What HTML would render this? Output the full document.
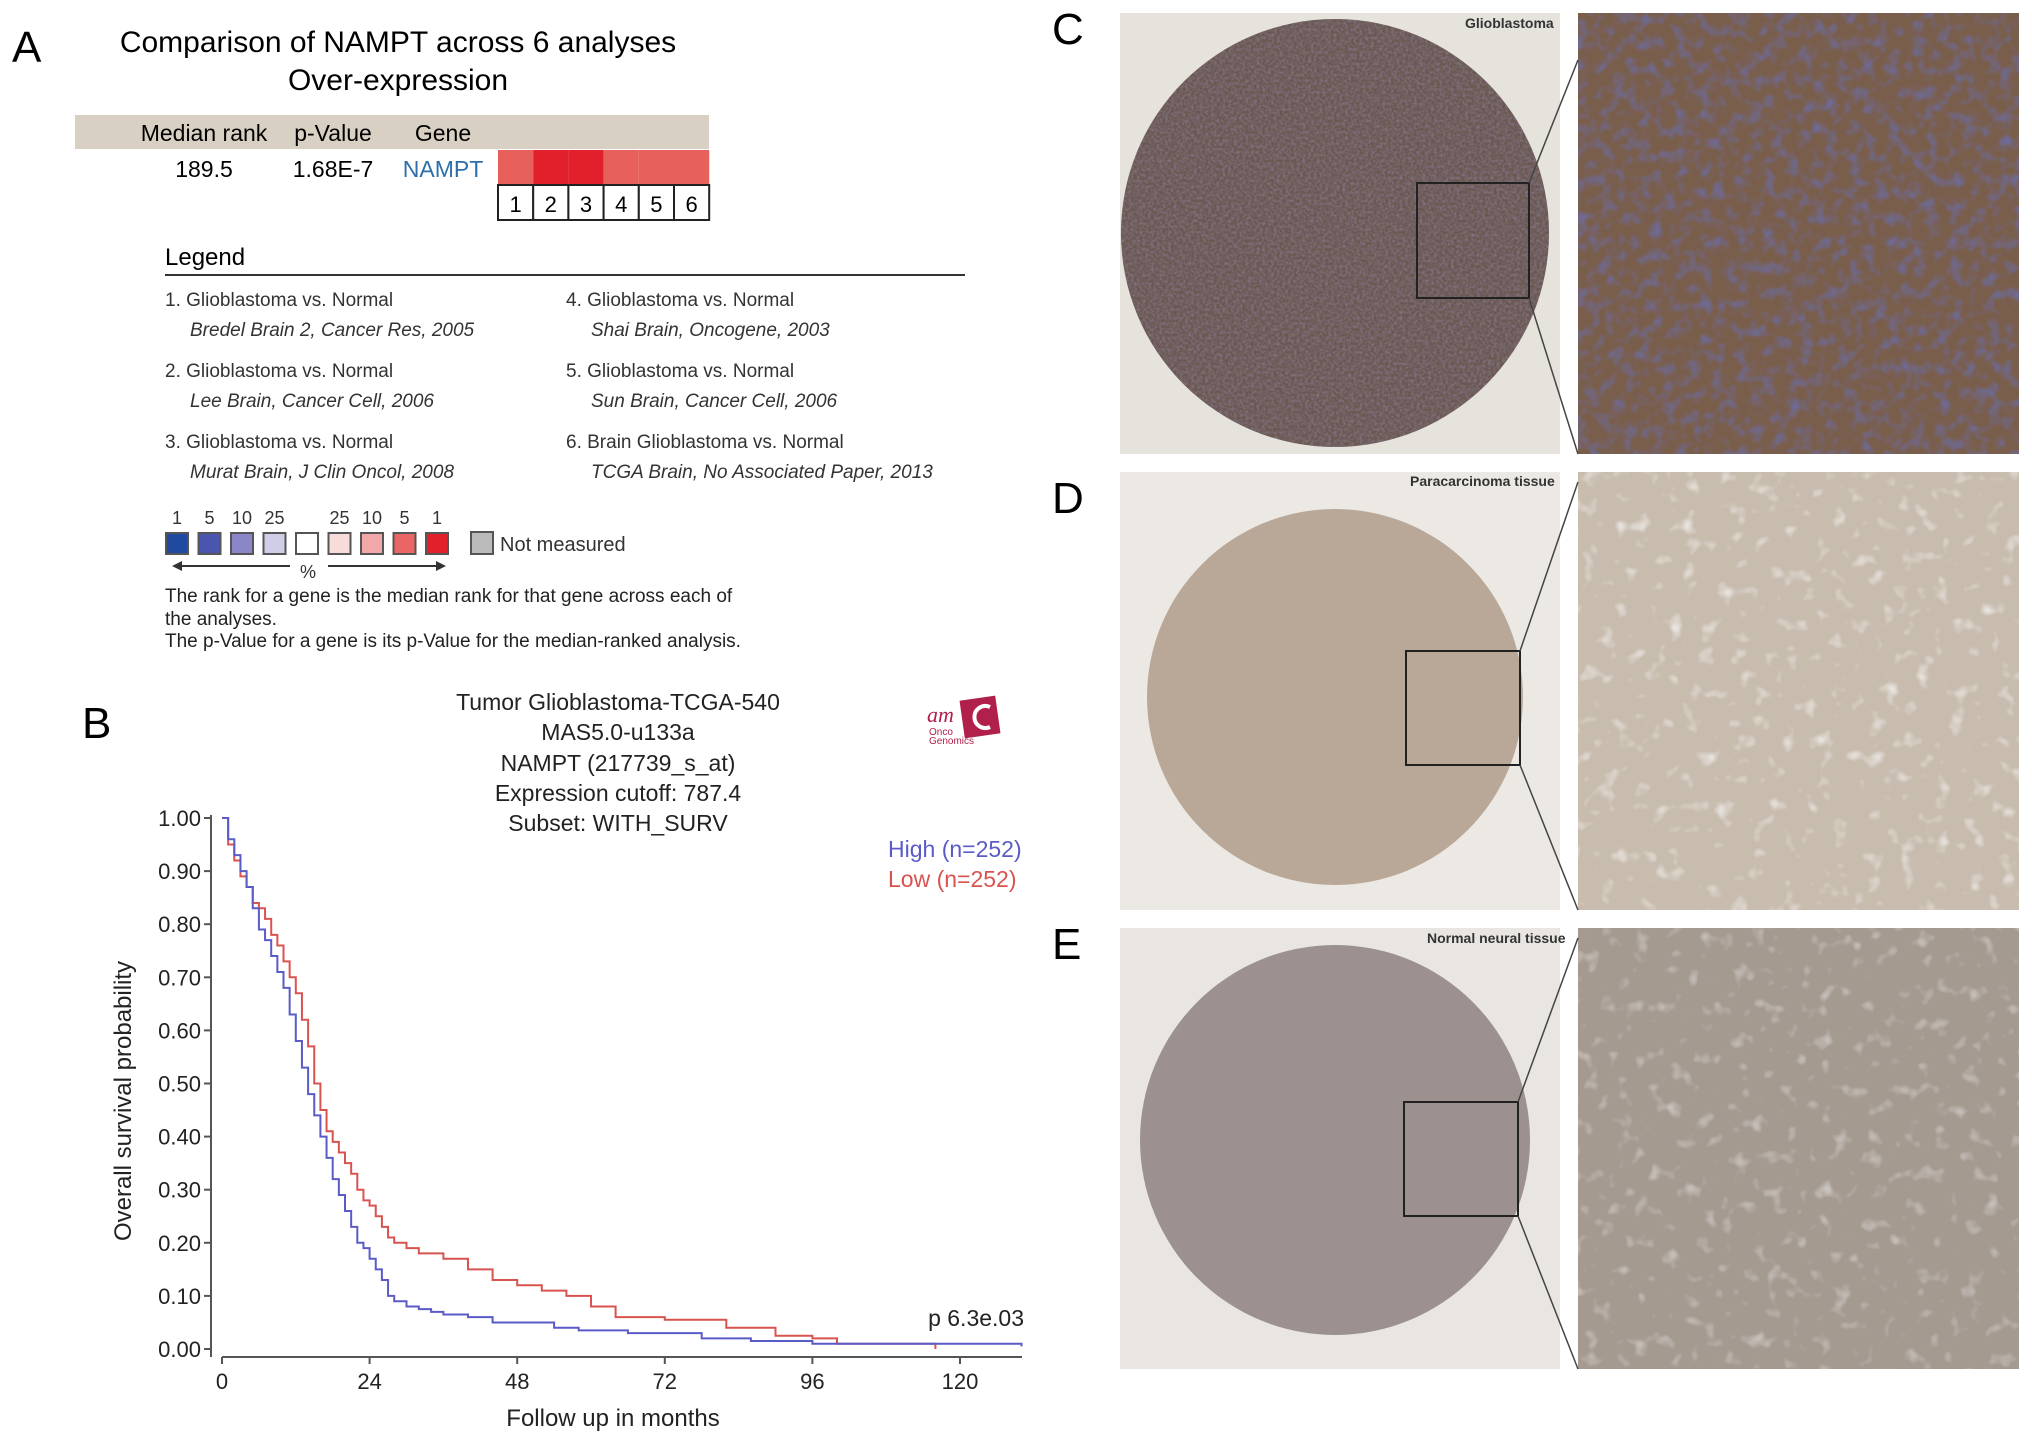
<!DOCTYPE html>
<html><head><meta charset="utf-8"><style>
html,body{margin:0;padding:0;background:#fff;}
svg{display:block;font-family:"Liberation Sans",Arial,sans-serif;}
</style></head><body>
<svg id="fig" width="2032" height="1444" viewBox="0 0 2032 1444" xmlns="http://www.w3.org/2000/svg">
<defs>
 <filter id="tex1" x="0" y="0" width="100%" height="100%"><feTurbulence type="fractalNoise" baseFrequency="0.35" numOctaves="2" seed="3"/><feColorMatrix type="matrix" values="0 0 0 0 0.25  0 0 0 0 0.2  0 0 0 0 0.3  0 0 0 1.8 -0.6"/></filter>
 <filter id="tex2" x="0" y="0" width="100%" height="100%"><feTurbulence type="fractalNoise" baseFrequency="0.08" numOctaves="2" seed="7"/><feColorMatrix type="matrix" values="0 0 0 0 0.15  0 0 0 0 0.15  0 0 0 0 0.35  0 0 0 2.2 -1.0"/></filter>
 <filter id="tex3" x="0" y="0" width="100%" height="100%"><feTurbulence type="fractalNoise" baseFrequency="0.06" numOctaves="2" seed="11"/><feColorMatrix type="matrix" values="0 0 0 0 0.95  0 0 0 0 0.95  0 0 0 0 0.95  0 0 0 2.2 -1.3"/></filter>
 <clipPath id="cc"><circle cx="1335" cy="233" r="214"/></clipPath>
</defs>

<g>
 <text x="12" y="62" font-size="44">A</text>
 <text x="398" y="52" font-size="30" text-anchor="middle">Comparison of NAMPT across 6 analyses</text>
 <text x="398" y="90" font-size="30" text-anchor="middle">Over-expression</text>
 <rect x="75" y="115" width="634" height="34" fill="#d8d0c2"/>
 <text x="204" y="141" font-size="23" text-anchor="middle">Median rank</text>
 <text x="333" y="141" font-size="23" text-anchor="middle">p-Value</text>
 <text x="443" y="141" font-size="23" text-anchor="middle">Gene</text>
 <text x="204" y="177" font-size="23" text-anchor="middle">189.5</text>
 <text x="333" y="177" font-size="23" text-anchor="middle">1.68E-7</text>
 <text x="443" y="177" font-size="23" text-anchor="middle" fill="#2f6fa8">NAMPT</text>
 <g id="cells"></g>
 <text x="165" y="265" font-size="24">Legend</text>
 <line x1="165" y1="275" x2="965" y2="275" stroke="#333" stroke-width="2"/>
 <g font-size="19" fill="#333">
  <text x="165" y="306">1. Glioblastoma vs. Normal</text><text x="190" y="336" font-style="italic">Bredel Brain 2, Cancer Res, 2005</text>
  <text x="165" y="377">2. Glioblastoma vs. Normal</text><text x="190" y="407" font-style="italic">Lee Brain, Cancer Cell, 2006</text>
  <text x="165" y="448">3. Glioblastoma vs. Normal</text><text x="190" y="478" font-style="italic">Murat Brain, J Clin Oncol, 2008</text>
  <text x="566" y="306">4. Glioblastoma vs. Normal</text><text x="591" y="336" font-style="italic">Shai Brain, Oncogene, 2003</text>
  <text x="566" y="377">5. Glioblastoma vs. Normal</text><text x="591" y="407" font-style="italic">Sun Brain, Cancer Cell, 2006</text>
  <text x="566" y="448">6. Brain Glioblastoma vs. Normal</text><text x="591" y="478" font-style="italic">TCGA Brain, No Associated Paper, 2013</text>
 </g>
 <g id="scale"></g>
 <rect x="471" y="532" width="22" height="22" fill="#bbb" stroke="#555" stroke-width="2"/>
 <text x="500" y="551" font-size="20" fill="#333">Not measured</text>
 <line x1="180" y1="566" x2="290" y2="566" stroke="#333" stroke-width="2"/><polygon points="172,566 182,561 182,571" fill="#333"/>
 <line x1="328" y1="566" x2="438" y2="566" stroke="#333" stroke-width="2"/><polygon points="446,566 436,561 436,571" fill="#333"/>
 <text x="308" y="578" font-size="18" text-anchor="middle" fill="#333">%</text>
 <g font-size="19" fill="#222">
  <text x="165" y="602">The rank for a gene is the median rank for that gene across each of</text>
  <text x="165" y="625">the analyses.</text>
  <text x="165" y="647">The p-Value for a gene is its p-Value for the median-ranked analysis.</text>
 </g>
</g>

<g>
 <text x="82" y="738" font-size="44">B</text>
 <g font-size="23" text-anchor="middle" fill="#222">
  <text x="618" y="710">Tumor Glioblastoma-TCGA-540</text>
  <text x="618" y="740">MAS5.0-u133a</text>
  <text x="618" y="771">NAMPT (217739_s_at)</text>
  <text x="618" y="801">Expression cutoff: 787.4</text>
  <text x="618" y="831">Subset: WITH_SURV</text>
 </g>
 <g>
  <rect x="962" y="698" width="36" height="38" fill="#b0204a" transform="rotate(-8 980 717)"/>
  <path d="M990 707 A11 11 0 1 0 990 727" fill="none" stroke="#fff" stroke-width="4"/>
  <text x="927" y="722" font-size="22" font-style="italic" font-family="Liberation Serif,serif" fill="#b0204a">am</text>
  <text x="929" y="735" font-size="10" fill="#b0204a">Onco</text>
  <text x="929" y="744" font-size="10" fill="#b0204a">Genomics</text>
 </g>
 <g id="km"></g>
 <text x="888" y="857" font-size="23" fill="#5b5bc8">High (n=252)</text>
 <text x="888" y="887" font-size="23" fill="#d9534f">Low (n=252)</text>
 <text x="1024" y="1326" font-size="23" text-anchor="end" fill="#222">p 6.3e.03</text>
 <text x="613" y="1426" font-size="24" text-anchor="middle" fill="#222">Follow up in months</text>
 <text transform="translate(131,1101) rotate(-90)" font-size="24" text-anchor="middle" fill="#222">Overall survival probability</text>
</g>

<g>
 <text x="1052" y="44" font-size="44">C</text>
 <rect x="1120" y="13" width="440" height="441" fill="#e6e2dc"/>
 <circle cx="1335" cy="233" r="214" fill="#6a5850"/>
 <rect x="1120" y="13" width="440" height="441" filter="url(#tex1)" clip-path="url(#cc)" opacity="0.8"/>
 <rect x="1578" y="13" width="441" height="441" fill="#7a5e4c"/>
 <rect x="1578" y="13" width="441" height="441" filter="url(#tex2)"/>
 <rect x="1417" y="183" width="112" height="115" fill="none" stroke="#222" stroke-width="2"/>
 <line x1="1529" y1="183" x2="1578" y2="60" stroke="#444" stroke-width="1.5"/><line x1="1529" y1="298" x2="1578" y2="454" stroke="#444" stroke-width="1.5"/>
 <text x="1465" y="28" font-size="14" font-weight="bold" fill="#333">Glioblastoma</text>
</g>
<g>
 <text x="1052" y="513" font-size="44">D</text>
 <rect x="1120" y="472" width="440" height="438" fill="#ece9e4"/>
 <circle cx="1335" cy="697" r="188" fill="#b9a898"/>
 <rect x="1578" y="472" width="441" height="438" fill="#c8bcae"/>
 <rect x="1578" y="472" width="441" height="438" filter="url(#tex3)"/>
 <rect x="1406" y="651" width="114" height="114" fill="none" stroke="#222" stroke-width="2"/>
 <line x1="1520" y1="651" x2="1578" y2="482" stroke="#444" stroke-width="1.5"/><line x1="1520" y1="765" x2="1578" y2="910" stroke="#444" stroke-width="1.5"/>
 <text x="1410" y="486" font-size="14" font-weight="bold" fill="#333">Paracarcinoma tissue</text>
</g>
<g>
 <text x="1052" y="959" font-size="44">E</text>
 <rect x="1120" y="928" width="440" height="441" fill="#e9e6e2"/>
 <circle cx="1335" cy="1140" r="195" fill="#9c918f"/>
 <rect x="1578" y="928" width="441" height="441" fill="#a59a90"/>
 <rect x="1578" y="928" width="441" height="441" filter="url(#tex3)" opacity="0.7"/>
 <rect x="1404" y="1102" width="114" height="114" fill="none" stroke="#222" stroke-width="2"/>
 <line x1="1518" y1="1102" x2="1578" y2="938" stroke="#444" stroke-width="1.5"/><line x1="1518" y1="1216" x2="1578" y2="1369" stroke="#444" stroke-width="1.5"/>
 <text x="1427" y="943" font-size="14" font-weight="bold" fill="#333">Normal neural tissue</text>
</g>
</svg>
<script>
const NS="http://www.w3.org/2000/svg";
const cellColors=["#e8605c","#e2202c","#e2202c","#e8605c","#e8605c","#e8605c"];
const scaleLabels=["1","5","10","25","","25","10","5","1"];
const scaleColors=["#1f4aa0","#4a55b0","#8a86c8","#cfcde8","#ffffff","#f8dcdc","#f2a8a8","#ea6666","#e2202c"];
const xTicks=[0,24,48,72,96,120];
const yTicks=[0,0.1,0.2,0.3,0.4,0.5,0.6,0.7,0.8,0.9,1.0];
const highT=[0,1,2,3,4,5,6,7,8,9,10,11,12,13,14,15,16,17,18,19,20,21,22,23,24,25,26,27,28,30,32,34,36,40,44,48,54,58,66,72,78,86,96,130];
const highS=[1.0,0.96,0.93,0.9,0.87,0.83,0.79,0.77,0.74,0.71,0.68,0.63,0.58,0.53,0.48,0.44,0.4,0.36,0.32,0.29,0.26,0.23,0.2,0.19,0.17,0.15,0.13,0.1,0.09,0.08,0.075,0.07,0.065,0.06,0.05,0.05,0.04,0.035,0.03,0.03,0.02,0.015,0.01,0.005];
const lowT=[0,1,2,3,4,5,6,7,8,9,10,11,12,13,14,15,16,17,18,19,20,21,22,23,24,25,26,27,28,30,32,36,40,44,48,52,56,60,64,72,82,90,96,100,110,116];
const lowS=[1.0,0.95,0.92,0.89,0.87,0.84,0.83,0.81,0.78,0.76,0.73,0.7,0.67,0.62,0.57,0.5,0.45,0.41,0.39,0.37,0.35,0.33,0.3,0.28,0.27,0.25,0.23,0.21,0.2,0.19,0.18,0.17,0.15,0.13,0.12,0.11,0.1,0.08,0.06,0.055,0.04,0.025,0.02,0.01,0.01,0.0];
function xS(t){return 222+t*(960-222)/120;}
function yS(v){return 1349-v*531;}
function mk(tag,attrs,parent){const e=document.createElementNS(NS,tag);for(const k in attrs)e.setAttribute(k,attrs[k]);parent.appendChild(e);return e;}
const cells=document.getElementById('cells');
cellColors.forEach((c,i)=>{
 const r=mk('rect',{x:498+i*35.2,y:150,width:35.2,height:35,fill:c},cells);
 
 
 const b=mk('rect',{x:498+i*35.2,y:185,width:35.2,height:35,fill:'#fff',stroke:'#222','stroke-width':2},cells);
 
 
 const t=mk('text',{x:515.6+i*35.2,y:212,'font-size':22,'text-anchor':'middle'},cells);t.textContent=String(i+1);
});
const sc=document.getElementById('scale');
scaleColors.forEach((c,i)=>{
 const r=mk('rect',{x:166+i*32.5,y:533,width:22,height:21,fill:c,stroke:'#555','stroke-width':2},sc);
 
 
 const t=mk('text',{x:177+i*32.5,y:524,'font-size':18,'text-anchor':'middle',fill:'#333'},sc);t.textContent=scaleLabels[i];
});
const km=document.getElementById('km');
const yAx=mk('line',{x1:211,y1:815,x2:211,y2:1357,stroke:'#555','stroke-width':2},km);


const xAx=mk('line',{x1:xS(0),y1:1357,x2:1022,y2:1357,stroke:'#555','stroke-width':2},km);


yTicks.forEach(v=>{
 mk('line',{x1:204,y1:yS(v),x2:211,y2:yS(v),stroke:'#555','stroke-width':2},km);
 const t=mk('text',{x:201,y:yS(v)+8,'font-size':22,'text-anchor':'end',fill:'#222'},km);t.textContent=v.toFixed(2);
 
 
});
xTicks.forEach(v=>{
 mk('line',{x1:xS(v),y1:1357,x2:xS(v),y2:1364,stroke:'#555','stroke-width':2},km);
 const t=mk('text',{x:xS(v),y:1389,'font-size':22,'text-anchor':'middle',fill:'#222'},km);t.textContent=String(v);
 
 
});
function step(T,S){let d='M'+xS(T[0])+' '+yS(S[0]);for(let i=1;i<T.length;i++){d+=' H'+xS(T[i])+' V'+yS(S[i]);}return d;}
const lo=mk('path',{d:step(lowT,lowS),fill:'none',stroke:'#d9534f','stroke-width':2},km);


const hi=mk('path',{d:step(highT,highS),fill:'none',stroke:'#5b5bc8','stroke-width':2},km);


</script>
</body></html>
